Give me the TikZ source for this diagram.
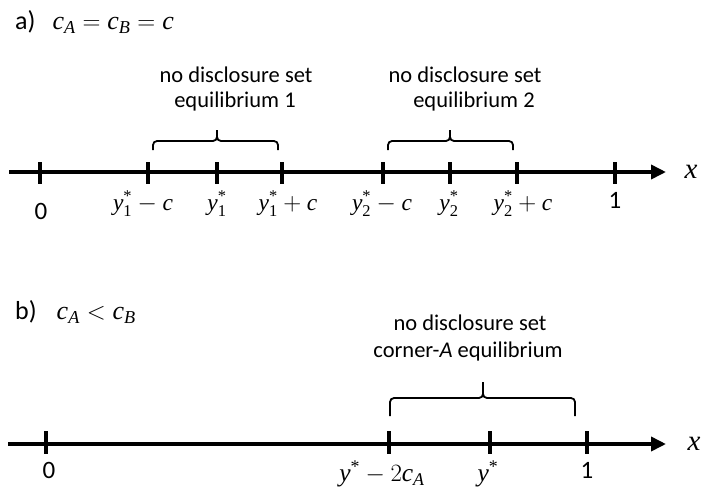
\documentclass[tikz,border=0pt]{standalone}
\usepackage{fontspec}
\usepackage{amsmath}
\setmainfont{Carlito}
\newfontfamily\tms{Liberation Serif}
\usetikzlibrary{arrows.meta}
\newcommand\tv[1]{\text{\tms\itshape #1}}
\newcommand\tu[1]{\text{\tms #1}}
\tikzset{
  axis/.style={line width=3.6pt,-{Triangle[length=15pt,width=14pt]}},
  tick/.style={line width=3.2pt},
  brc/.style={line width=1.8pt,rounded corners=4pt},
  desc/.style={font=\fontsize{22.5}{26}\selectfont,align=center,inner sep=0pt},
  num/.style={font=\fontsize{25}{30}\selectfont,inner sep=0pt},
  mlab/.style={font=\fontsize{23.5}{27}\selectfont,inner sep=0pt},
  mlabb/.style={font=\fontsize{25.5}{29}\selectfont,inner sep=0pt},
  xlab/.style={font=\fontsize{29}{32}\selectfont,inner sep=0pt},
  head/.style={font=\fontsize{26}{30}\selectfont,inner sep=0pt,anchor=west},
}
\begin{document}
\begin{tikzpicture}[x=1pt,y=-1pt]
\useasboundingbox (0,0) rectangle (703,496);
% ---------- part a ----------
\node[head] (ha) at (15,22) {a)\hspace{17pt}$\tv{c}_{\tv{A}}=\tv{c}_{\tv{B}}=\tv{c}$};
\coordinate (as) at (9,172);
\coordinate (ae) at (666,172);
\draw[axis] (as) -- (ae);
\node[xlab] (ax) at (691,172) {$\tv{x}$};
\foreach \xx in {40,148,217,282,383,450,517,615}{
  \draw[tick] (\xx,162) -- (\xx,184);
}
\node[num] (l0) at (41,211) {0};
\node[mlab] (l1) at (143,204) {$\tv{y}^{\tu{*}}_{\tu{1}}-\tv{c}$};
\node[mlab] (l2) at (217,204) {$\tv{y}^{\tu{*}}_{\tu{1}}$};
\node[mlab] (l3) at (288,204) {$\tv{y}^{\tu{*}}_{\tu{1}}+\tv{c}$};
\node[mlab] (l4) at (382,204) {$\tv{y}^{\tu{*}}_{\tu{2}}-\tv{c}$};
\node[mlab] (l5) at (449,204) {$\tv{y}^{\tu{*}}_{\tu{2}}$};
\node[mlab] (l6) at (523,204) {$\tv{y}^{\tu{*}}_{\tu{2}}+\tv{c}$};
\node[num] (l7) at (615,200) {1};
% brace 1
\draw[brc] (153,150) |- (217,141) -- (217,130);
\draw[brc] (278,150) |- (217,141) -- (217,130);
% brace 2
\draw[brc] (388,150) |- (450,141) -- (450,130);
\draw[brc] (513,150) |- (450,141) -- (450,130);
\node[desc] (d1a) at (236,75) {no disclosure set};
\node[desc] (d1b) at (235,101) {equilibrium 1};
\node[desc] (d2a) at (465,75) {no disclosure set};
\node[desc] (d2b) at (474,101) {equilibrium 2};
% ---------- part b ----------
\node[head] (hb) at (15,312) {b)\hspace{20pt}$\tv{c}_{\tv{A}}<\tv{c}_{\tv{B}}$};
\coordinate (bs) at (8,444);
\coordinate (be) at (666,444);
\draw[axis] (bs) -- (be);
\node[xlab] (bx) at (694,444) {$\tv{x}$};
\foreach \xx in {46,389,490,587}{
  \draw[tick] (\xx,431) -- (\xx,454);
}
\node[num] (m0) at (49,470) {0};
\node[mlabb] (m1) at (382,474) {$\tv{y}^{\tu{*}}-2\tv{c}_{\tv{A}}$};
\node[mlabb] (m2) at (488,474) {$\tv{y}^{\tu{*}}$};
\node[num] (m3) at (587,470) {1};
\draw[brc] (390,416) |- (483,398) -- (483,382);
\draw[brc] (575,416) |- (483,398) -- (483,382);
\node[desc] (e1) at (470,323) {no disclosure set};
\node[desc] (e2) at (468,351) {corner-\textit{A} equilibrium};
\end{tikzpicture}
\end{document}
